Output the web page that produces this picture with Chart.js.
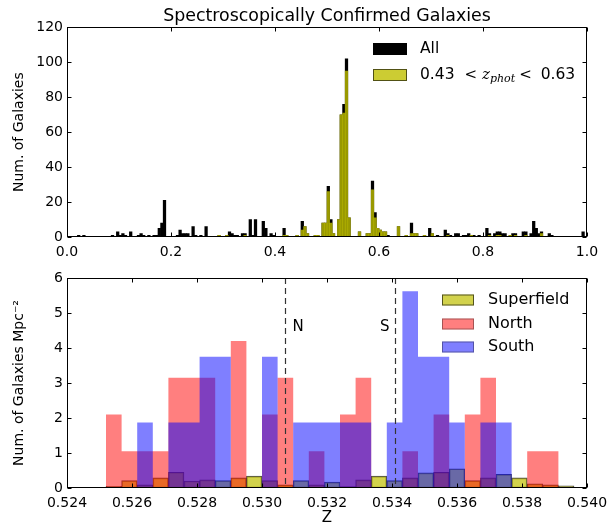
<!DOCTYPE html>
<html>
<head>
<meta charset="utf-8">
<script src="https://cdn.jsdelivr.net/npm/chart.js@4.4.0/dist/chart.umd.min.js"></script>
<style>
  body { margin: 0; background: #fff; }
  canvas { position: absolute; left: 0; }
  #topChart { top: 0; }
  #bottomChart { top: 258px; }
</style>
</head>
<body>
<canvas id="topChart" width="615" height="258"></canvas>
<canvas id="bottomChart" width="615" height="269"></canvas>
<script>
// ---- top panel: spectroscopic redshift histogram, bins 0.005 wide (left edges) ----
const topBinW = 0.005;
const allZ = [0.020, 0.030, 0.085, 0.095, 0.100, 0.105, 0.110, 0.120, 0.135, 0.140, 0.145, 0.155, 0.165, 0.170, 0.175, 0.180, 0.185,
  0.210, 0.215, 0.220, 0.225, 0.230, 0.240, 0.245, 0.255, 0.265, 0.290, 0.305, 0.310, 0.315, 0.320, 0.325,
  0.335, 0.340, 0.350, 0.355, 0.360, 0.375, 0.380, 0.390, 0.395, 0.415, 0.420, 0.440, 0.450, 0.455, 0.460, 0.475, 0.480, 0.490, 0.495,
  0.500, 0.505, 0.510, 0.520, 0.525, 0.530, 0.535, 0.540, 0.560, 0.575, 0.580, 0.585, 0.590, 0.595, 0.600, 0.605, 0.610, 0.615,
  0.635, 0.650, 0.660, 0.665, 0.670, 0.685, 0.695, 0.700, 0.710, 0.725, 0.730, 0.735, 0.745, 0.750, 0.760, 0.765, 0.770, 0.775,
  0.780, 0.790, 0.805, 0.810, 0.820, 0.825, 0.830, 0.835, 0.840, 0.850, 0.855, 0.860, 0.875, 0.880, 0.890, 0.895, 0.900, 0.905,
  0.910, 0.925, 0.930, 0.990];
const allN = [1, 1, 1, 3, 1, 2, 1, 3, 1, 2, 1, 1, 1, 1, 5, 8, 21,
  1, 4, 2, 2, 2, 6, 1, 1, 6, 1, 1, 3, 2, 1, 1,
  2, 2, 10, 1, 10, 9, 5, 2, 1, 5, 1, 1, 9, 6, 2, 1, 1, 8, 8,
  29, 10, 2, 10, 70, 76, 102, 11, 3, 2, 2, 32, 14, 5, 4, 3, 3, 1,
  6, 1, 8, 2, 2, 1, 5, 2, 1, 4, 2, 1, 2, 2, 1, 1, 2, 1,
  1, 1, 5, 2, 2, 3, 3, 2, 2, 1, 2, 2, 3, 3, 2, 9, 5, 2,
  3, 2, 1, 3];
const subZ = [0.290, 0.305, 0.340, 0.415, 0.420, 0.440, 0.450, 0.455, 0.460, 0.475, 0.480, 0.490, 0.495,
  0.500, 0.505, 0.510, 0.520, 0.525, 0.530, 0.535, 0.540, 0.560, 0.575, 0.580, 0.585, 0.590, 0.595, 0.600, 0.605, 0.610,
  0.635, 0.650, 0.660, 0.665, 0.670, 0.685, 0.700, 0.730, 0.775, 0.810, 0.825, 0.830, 0.850, 0.860, 0.880, 0.910];
const subN = [1, 1, 1, 1, 1, 1, 4, 6, 2, 1, 1, 8, 8,
  26, 8, 2, 10, 70, 71, 95, 11, 3, 2, 2, 27, 11, 5, 4, 3, 3,
  6, 1, 2, 2, 2, 1, 2, 1, 1, 1, 1, 1, 1, 1, 1, 2];

// ---- bottom panel: surface density per field, 30 bins of 0.00048 from 0.5252 ----
const zStart = 0.5252;
const zStep = 0.00048;
const superfield = [0.05, 0.21, 0.09, 0.29, 0.45, 0.20, 0.23, 0.21, 0.29, 0.34, 0.21, 0.09, 0.21, 0.09, 0.17,
  0.04, 0.23, 0.34, 0.21, 0.29, 0.43, 0.45, 0.55, 0.21, 0.29, 0.39, 0.29, 0.12, 0.09, 0.06];
const north = [2.1, 1.05, 1.05, 1.05, 3.15, 3.15, 3.15, 0, 4.2, 0, 2.1, 3.15, 0, 1.05, 0,
  2.1, 3.15, 0, 0, 1.05, 0, 2.1, 0, 2.1, 3.15, 0, 0, 1.05, 1.05, 0];
const south = [0, 0, 1.875, 0, 1.875, 1.875, 3.75, 3.75, 0, 0, 3.75, 0, 1.875, 1.875, 1.875,
  1.875, 1.875, 0, 1.875, 5.625, 3.75, 3.75, 1.875, 0, 1.875, 1.875, 0, 0, 0, 0];
const fieldNames = ['Superfield', 'North', 'South'];
const markerZ = [0.5307, 0.5341];
const markerNames = ['N', 'S'];
const markerLabelY = 4.61;

Chart.defaults.font.family = 'DejaVu Sans';
Chart.defaults.color = '#000';

const SANS = 'DejaVu Sans';

function toPoints(lefts, counts, w) {
  return lefts.map((z, i) => ({ x: z + w / 2, y: counts[i] }));
}
function binPoints(values) {
  return values.map((v, i) => ({ x: zStart + zStep * (i + 0.5), y: v }));
}
// step outline: one point per bin edge, value held until the next edge
function stepPoints(values) {
  const pts = values.map((v, i) => ({ x: zStart + zStep * i, y: v }));
  pts.push({ x: zStart + zStep * values.length, y: 0 });
  return pts;
}

// black frame and inward ticks on all four sides
const frame = {
  id: 'frame',
  afterDatasetsDraw(chart) {
    const { ctx, chartArea: a, scales: { x, y } } = chart;
    const L = Math.round(a.left) + 0.5, R = Math.round(a.right) - 0.5;
    const T = Math.round(a.top) + 0.5, B = Math.round(a.bottom) - 0.5;
    ctx.save();
    ctx.strokeStyle = '#000';
    ctx.lineWidth = 1;
    ctx.beginPath();
    x.ticks.forEach(t => {
      const px = Math.round(x.getPixelForValue(t.value)) + 0.5;
      ctx.moveTo(px, B); ctx.lineTo(px, B - 4);
      ctx.moveTo(px, T); ctx.lineTo(px, T + 4);
    });
    y.ticks.forEach(t => {
      const py = Math.round(y.getPixelForValue(t.value)) + 0.5;
      ctx.moveTo(L, py); ctx.lineTo(L + 4, py);
      ctx.moveTo(R, py); ctx.lineTo(R - 4, py);
    });
    ctx.stroke();
    ctx.strokeRect(L, T, R - L, B - T);
    ctx.restore();
  }
};

function boxLegend(items, x0, y0, dy, boxW, boxH, gap) {
  return {
    id: 'boxLegend',
    afterDraw(chart) {
      const ctx = chart.ctx;
      ctx.save();
      items.forEach((it, i) => {
        const cy = Math.round(y0 + i * dy);
        ctx.fillStyle = it.fill;
        ctx.fillRect(x0, cy - boxH / 2, boxW, boxH);
        if (it.stroke) {
          ctx.strokeStyle = it.stroke;
          ctx.lineWidth = 1;
          ctx.strokeRect(x0 + 0.5, cy - boxH / 2 + 0.5, boxW - 1, boxH - 1);
        }
        let tx = x0 + boxW + gap;
        ctx.textBaseline = 'middle';
        ctx.textAlign = 'left';
        ctx.fillStyle = '#000';
        it.parts.forEach(p => {
          ctx.font = p.font;
          tx += p.dx || 0;
          ctx.fillText(p.text, tx, cy + (p.dy || 0));
          tx += ctx.measureText(p.text).width;
        });
      });
      ctx.restore();
    }
  };
}

const markers = {
  id: 'markers',
  afterDatasetsDraw(chart) {
    const { ctx, chartArea: a, scales: { x, y } } = chart;
    ctx.save();
    markerZ.forEach((z, i) => {
      const px = Math.round(x.getPixelForValue(z)) + 0.5;
      ctx.strokeStyle = '#333';
      ctx.lineWidth = 1.2;
      ctx.setLineDash([6, 4]);
      ctx.beginPath();
      ctx.moveTo(px, a.top);
      ctx.lineTo(px, a.bottom);
      ctx.stroke();
      ctx.font = '15px ' + SANS;
      ctx.fillStyle = '#000';
      ctx.textBaseline = 'middle';
      const right = i === 0;
      ctx.textAlign = right ? 'left' : 'right';
      ctx.fillText(markerNames[i], px + (right ? 7 : -6), y.getPixelForValue(markerLabelY));
    });
    ctx.restore();
  }
};

function xAxis(min, max, step, digits, height, pad, title) {
  return {
    type: 'linear', min, max, offset: false,
    grid: { display: false, drawTicks: false, offset: false },
    border: { display: false },
    ticks: { stepSize: step, padding: pad, maxRotation: 0, autoSkip: false,
      font: { size: 14 }, callback: v => v.toFixed(digits) },
    title: title ? { display: true, text: title, font: { size: 15 }, padding: { top: 0, bottom: 0 } } : { display: false },
    afterFit: s => { s.height = height; }
  };
}
function yAxis(min, max, step, title) {
  return {
    min, max,
    grid: { display: false, drawTicks: false },
    border: { display: false },
    ticks: { stepSize: step, padding: 4, font: { size: 14 }, callback: v => String(v) },
    title: { display: true, text: title, font: { size: 14 }, padding: { top: 11, bottom: 0 } },
    afterFit: s => { s.width = 67; }
  };
}

const barBase = { barPercentage: 1, categoryPercentage: 1, grouped: false };

new Chart(document.getElementById('topChart'), {
  type: 'bar',
  data: {
    datasets: [
      Object.assign({ label: '0.43 < z_phot < 0.63', data: toPoints(subZ, subN, topBinW),
        backgroundColor: 'rgba(191,191,0,0.8)', borderWidth: 0, order: 0 }, barBase),
      Object.assign({ label: 'All', data: toPoints(allZ, allN, topBinW),
        backgroundColor: '#000', borderWidth: 0, order: 1 }, barBase)
    ]
  },
  options: {
    responsive: false, animation: false, devicePixelRatio: 1, events: [],
    layout: { padding: { left: 0, right: 28, top: 0, bottom: 0 } },
    scales: {
      x: xAxis(0, 1, 0.2, 1, 21, 7, null),
      y: yAxis(0, 120, 20, 'Num. of Galaxies')
    },
    plugins: {
      legend: { display: false },
      tooltip: { enabled: false },
      title: { display: true, fullSize: false, text: 'Spectroscopically Confirmed Galaxies', color: '#000',
        font: { size: 17.4, weight: 'normal', lineHeight: 1.2 }, padding: { top: 6.5, bottom: 0 } }
    }
  },
  plugins: [frame, boxLegend([
    { fill: '#000', parts: [{ text: 'All', font: '15.5px ' + SANS }] },
    { fill: 'rgba(191,191,0,0.8)', stroke: 'rgba(0,0,0,0.6)', parts: [
      { text: '0.43', font: '15.5px ' + SANS },
      { text: '<', font: '15px DejaVu Serif', dx: 10 },
      { text: 'z', font: 'italic 15px DejaVu Serif', dx: 5 },
      { text: 'phot', font: 'italic 11px DejaVu Serif', dy: 4 },
      { text: '<', font: '15px DejaVu Serif', dx: 4 },
      { text: '0.63', font: '15.5px ' + SANS, dx: 9 }
    ] }
  ], 373, 49, 25.5, 34, 12, 13)]
});

const stepBase = { type: 'line', stepped: 'before', fill: 'origin', pointRadius: 0, borderWidth: 0 };

new Chart(document.getElementById('bottomChart'), {
  type: 'bar',
  data: {
    datasets: [
      Object.assign({ label: fieldNames[2], data: stepPoints(south),
        backgroundColor: 'rgba(0,0,255,0.5)', borderColor: 'rgba(0,0,0,0)', order: 0 }, stepBase),
      Object.assign({ label: fieldNames[1], data: stepPoints(north),
        backgroundColor: 'rgba(255,0,0,0.5)', borderColor: 'rgba(0,0,0,0)', order: 1 }, stepBase),
      Object.assign({ label: fieldNames[0], data: binPoints(superfield),
        backgroundColor: 'rgba(191,191,0,0.7)', borderColor: 'rgba(0,0,0,0.7)', borderWidth: 1,
        borderSkipped: false, order: 2 }, barBase)
    ]
  },
  options: {
    responsive: false, animation: false, devicePixelRatio: 1, events: [],
    layout: { padding: { left: 0, right: 28, top: 20, bottom: 0 } },
    scales: {
      x: xAxis(0.524, 0.540, 0.002, 3, 39, 6.5, 'Z'),
      y: yAxis(0, 6, 1, 'Num. of Galaxies Mpc⁻²')
    },
    plugins: { legend: { display: false }, tooltip: { enabled: false } }
  },
  plugins: [markers, frame, boxLegend([
    { fill: 'rgba(191,191,0,0.7)', stroke: 'rgba(0,0,0,0.6)', parts: [{ text: fieldNames[0], font: '16px ' + SANS }] },
    { fill: 'rgba(255,0,0,0.5)', stroke: 'rgba(0,0,0,0.35)', parts: [{ text: fieldNames[1], font: '16px ' + SANS }] },
    { fill: 'rgba(0,0,255,0.5)', stroke: 'rgba(0,0,0,0.35)', parts: [{ text: fieldNames[2], font: '16px ' + SANS }] }
  ], 442, 42, 23.7, 32, 11, 14)]
});
</script>
</body>
</html>
